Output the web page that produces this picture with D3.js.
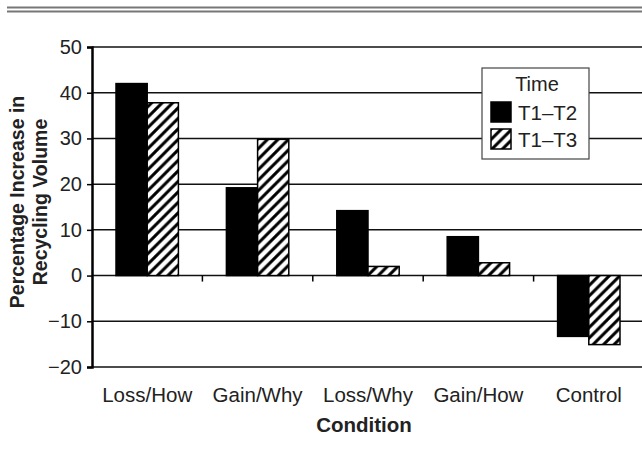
<!DOCTYPE html>
<html>
<head>
<meta charset="utf-8">
<script src="https://cdn.jsdelivr.net/npm/d3@7/dist/d3.min.js"></script>
<style>
  body { margin: 0; background: #fff; }
  svg { display: block; font-family: "Liberation Sans", Arial, sans-serif; }
</style>
</head>
<body>
<svg id="chart" width="642" height="453"></svg>
<script>
// data
var conditions = ["Loss/How", "Gain/Why", "Loss/Why", "Gain/How", "Control"];
var seriesNames = ["T1\u2013T2", "T1\u2013T3"];
var t1t2 = [42, 19.2, 14.2, 8.5, -13.3];
var t1t3 = [37.8, 29.8, 2, 2.8, -15.1];
var yTicks = [-20, -10, 0, 10, 20, 30, 40, 50];

var svg = d3.select("#chart");
var margin = {top: 47, left: 92, right: -2, bottom: 86};
var width = 642 - margin.left - margin.right;
var height = 453 - margin.top - margin.bottom;

var rows = conditions.map(function(c, i) {
  return {cond: c, vals: [t1t2[i], t1t3[i]]};
});

// top double rule
svg.append("line").attr("x1", 7).attr("x2", 642).attr("y1", 7.5).attr("y2", 7.5)
  .attr("stroke", "#777").attr("stroke-width", 2);
svg.append("line").attr("x1", 7).attr("x2", 642).attr("y1", 11.5).attr("y2", 11.5)
  .attr("stroke", "#777").attr("stroke-width", 2);

// hatch pattern (white ground, black diagonals)
var defs = svg.append("defs");
var pat = defs.append("pattern").attr("id", "hatch")
  .attr("patternUnits", "userSpaceOnUse")
  .attr("width", 10.5).attr("height", 10.5);
pat.append("rect").attr("width", 10.5).attr("height", 10.5).attr("fill", "#fff");
pat.append("path")
  .attr("d", "M-1,1 l2,-2 M0,10.5 l10.5,-10.5 M9.5,11.5 l2,-2")
  .attr("stroke", "#000").attr("stroke-width", 3);

var g = svg.append("g").attr("transform", "translate(" + margin.left + "," + margin.top + ")");

var y = d3.scaleLinear().domain([-20, 50]).range([height, 0]);
var x0 = d3.scaleBand().domain(conditions).range([0, width]).paddingInner(0).paddingOuter(0);
var x1 = d3.scaleBand().domain([0, 1]).range([24, x0.bandwidth() - 24]);

// gridlines
g.selectAll("line.grid").data(yTicks).enter().append("line")
  .attr("class", "grid")
  .attr("x1", 0).attr("x2", width)
  .attr("y1", function(d) { return y(d); }).attr("y2", function(d) { return y(d); })
  .attr("stroke", "#111").attr("stroke-width", 1.5);

// bars
var groups = g.selectAll("g.cond").data(rows).enter().append("g")
  .attr("class", "cond")
  .attr("transform", function(d) { return "translate(" + x0(d.cond) + ",0)"; });

groups.selectAll("rect").data(function(d) { return d.vals; }).enter().append("rect")
  .attr("x", function(d, i) { return x1(i); })
  .attr("width", x1.bandwidth())
  .attr("y", function(d) { return y(Math.max(0, d)); })
  .attr("height", function(d) { return Math.abs(y(d) - y(0)); })
  .attr("fill", function(d, i) { return i === 0 ? "#000" : "url(#hatch)"; })
  .attr("stroke", "#000").attr("stroke-width", 1.5);

// y axis
var yAxis = g.append("g")
  .call(d3.axisLeft(y).tickValues(yTicks).tickSize(5).tickPadding(5)
    .tickFormat(function(d) { return d < 0 ? "\u2212" + Math.abs(d) : d; }));
yAxis.select(".domain").attr("stroke", "#000").attr("stroke-width", 2.5);
yAxis.selectAll(".tick line").attr("stroke", "#000").attr("stroke-width", 1.5);
yAxis.selectAll("text").attr("font-size", 20).attr("fill", "#222")
  .attr("font-family", "Liberation Sans, Arial, sans-serif");

// x ticks at band boundaries along zero line
g.selectAll("line.xtick").data(conditions.slice(1)).enter().append("line")
  .attr("class", "xtick")
  .attr("x1", function(d) { return x0(d); }).attr("x2", function(d) { return x0(d); })
  .attr("y1", y(0)).attr("y2", y(0) + 6)
  .attr("stroke", "#000").attr("stroke-width", 1.5);

// category labels below plot
g.selectAll("text.cat").data(conditions).enter().append("text")
  .attr("class", "cat")
  .attr("x", function(d) { return x0(d) + x0.bandwidth() / 2; })
  .attr("y", height + 35)
  .attr("text-anchor", "middle")
  .attr("font-size", 20.5).attr("fill", "#222")
  .text(function(d) { return d; });

// axis titles
g.append("text")
  .attr("x", width / 2 - 4).attr("y", height + 65)
  .attr("text-anchor", "middle")
  .attr("font-size", 20.5).attr("font-weight", "bold").attr("fill", "#222")
  .text("Condition");

var yt = svg.append("text")
  .attr("transform", "translate(0,202) rotate(-90)")
  .attr("text-anchor", "middle")
  .attr("font-size", 19.5).attr("font-weight", "bold").attr("fill", "#222");
yt.append("tspan").attr("x", 0).attr("y", 24).text("Percentage Increase in");
yt.append("tspan").attr("x", 0).attr("y", 47).text("Recycling Volume");

// legend
var lg = svg.append("g").attr("transform", "translate(482,68)");
lg.append("rect").attr("width", 107).attr("height", 91)
  .attr("fill", "#fff").attr("stroke", "#444").attr("stroke-width", 1.2);
lg.append("text").attr("x", 55).attr("y", 23).attr("text-anchor", "middle")
  .attr("font-size", 20).attr("fill", "#222").text("Time");
var items = lg.selectAll("g.item").data(seriesNames).enter().append("g")
  .attr("class", "item")
  .attr("transform", function(d, i) { return "translate(9," + (34 + i * 27) + ")"; });
items.append("rect").attr("width", 20).attr("height", 20)
  .attr("fill", function(d, i) { return i === 0 ? "#000" : "url(#hatch)"; })
  .attr("stroke", "#000").attr("stroke-width", 1.5);
items.append("text").attr("x", 27).attr("y", 18)
  .attr("font-size", 20.5).attr("fill", "#222")
  .text(function(d) { return d; });
</script>
</body>
</html>
